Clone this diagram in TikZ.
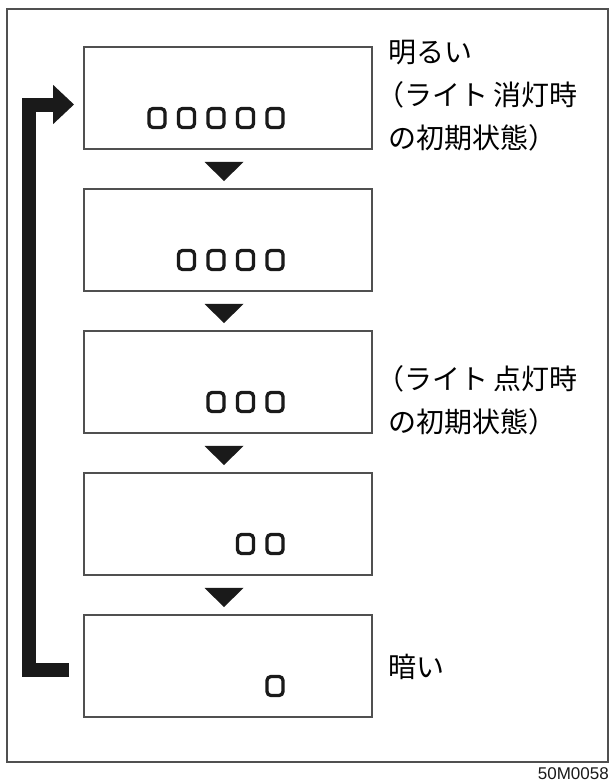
\documentclass[tikz,border=0pt]{standalone}
\usepackage{fontspec}
\setmainfont{Liberation Sans}
\newfontfamily\jp{Noto Sans CJK JP}
\usetikzlibrary{calc,arrows.meta}
\definecolor{edge}{HTML}{505050}
\definecolor{ink}{HTML}{1A1A1A}
\tikzset{
  frame/.style={draw=edge, line width=2pt},
  panel/.style={draw=edge, line width=1.9pt, fill=white, minimum width=288pt, minimum height=102pt, inner sep=0pt},
  seg/.style={draw=ink, line width=3.3pt, rounded corners=4pt, minimum width=16pt, minimum height=19pt, inner sep=0pt},
  tri/.style={fill=ink},
  lab/.style={font=\jp\fontsize{28}{43}\selectfont, anchor=base west, inner sep=0pt},
  loop/.style={draw=ink, line width=14pt, line join=miter, -{Triangle[length=21pt,width=38pt]}},
  code/.style={font=\fontsize{17}{20}\selectfont, anchor=base east, inner sep=0pt, text=ink}
}
\begin{document}
\begin{tikzpicture}[x=1pt,y=-1pt]
\useasboundingbox (0,0) rectangle (612,782);
\draw[frame] (7,9) rectangle (608,762);
% panels
\foreach \i in {1,...,5} {
  \node[panel] (b\i) at (228, {47+142*(\i-1)+51}) {};
}
% digit squares
\foreach \i in {1,...,5} {
  \pgfmathtruncatemacro{\n}{6-\i}
  \foreach \k in {1,...,\n} {
    \node[seg] (s\i\k) at ($(b\i.center)+({47-29.5*(\k-1)},20)$) {};
  }
}
% triangles between panels
\foreach \i/\j in {1/2,2/3,3/4,4/5} {
  \fill[tri] ($(b\i.south)+(-23.5,12)$) -- ($(b\i.south)+(15.5,12)$) -- ($(b\j.north)+(-4,-7)$) -- cycle;
}
% return connector
\coordinate (lstart) at ($(b5.west)+(-14,4)$);
\coordinate (lend) at ($(b1.west)+(-9,6.5)$);
\draw[loop] (lstart) -- ($(lstart)+(-40,0)$) |- (lend);
% labels
\node[lab] (t1a) at (388, 62) {明るい};
\node[lab] (t1b) at (376, 105) {（ライト\hspace{5pt}消灯時};
\node[lab] (t1c) at (388, 148) {の初期状態）};
\node[lab] (t3a) at (376, 389) {（ライト\hspace{5pt}点灯時};
\node[lab] (t3b) at (388, 432) {の初期状態）};
\node[lab] (t5a) at (388, 677) {暗い};
\node[code] (id) at (609, 779) {50M0058};
\end{tikzpicture}
\end{document}
